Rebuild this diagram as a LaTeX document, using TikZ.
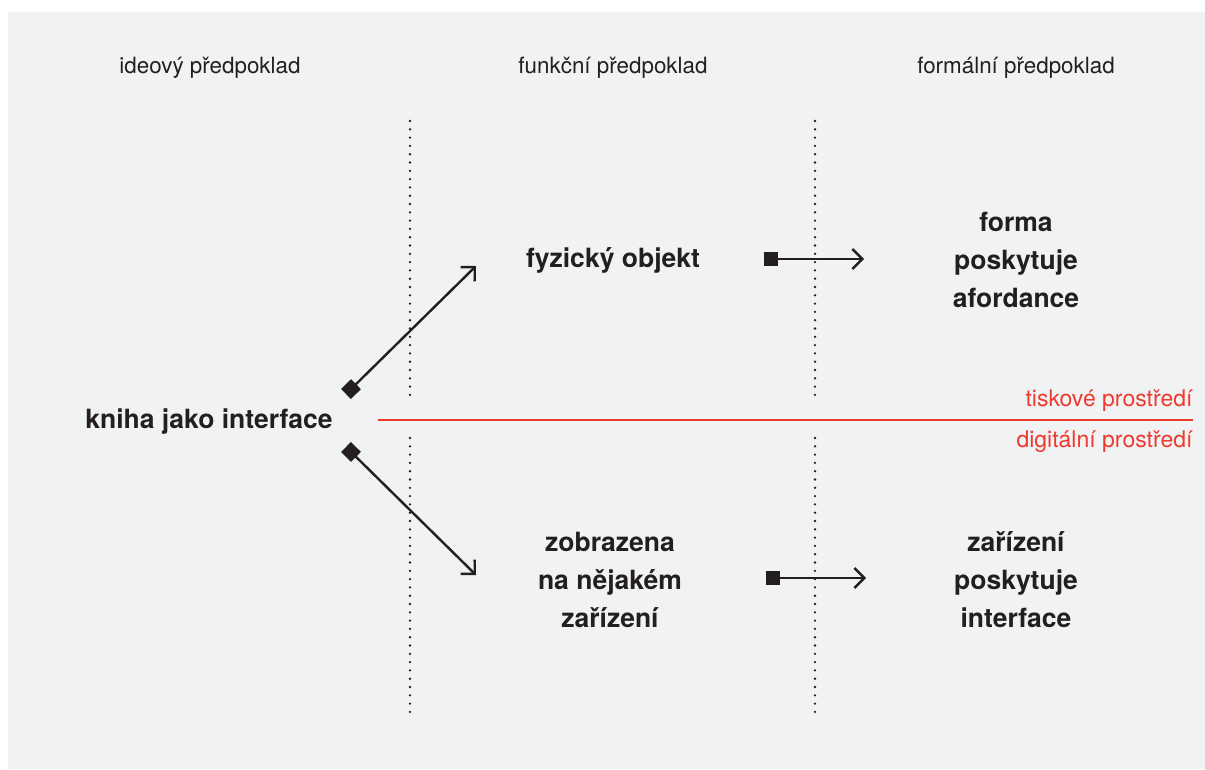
\documentclass[tikz,border=0pt]{standalone}
\usepackage{fontspec}
\setmainfont{TeX Gyre Heros}
\usetikzlibrary{arrows.meta}
\definecolor{paper}{HTML}{F1F2F4}
\definecolor{ink}{HTML}{231F20}
\definecolor{accent}{HTML}{EE3A2E}
\tikzset{
  head/.style={font=\fontsize{22.4}{24}\selectfont, text=ink, anchor=center},
  label/.style={font=\fontsize{26.5}{38}\selectfont\bfseries, text=ink, align=center, anchor=center},
  envlabel/.style={font=\fontsize{23}{24}\selectfont, text=accent, anchor=east},
  divider/.style={draw=ink, line width=2.6pt, line cap=round, dash pattern=on 0pt off 8.3pt},
  diaglink/.style={draw=ink, line width=2.4pt,
    {Square[length=14pt,width=14pt]}-{Straight Barb[length=10pt,width=20pt,line width=2.4pt]}},
}
\begin{document}
\begin{tikzpicture}[x=1pt,y=-1pt]
  \useasboundingbox (0,0) rectangle (1205,769);
  \fill[white] (0,0) rectangle (1205,769);
  \fill[paper] (8,12) rectangle (1205,769);

  % column headings
  \node[head] (h1) at (210,68) {ideový předpoklad};
  \node[head] (h2) at (613,68) {funkční předpoklad};
  \node[head] (h3) at (1016,68) {formální předpoklad};

  % dotted column dividers
  \draw[divider] (410,121) -- (410,398);
  \draw[divider] (410,438) -- (410,718);
  \draw[divider] (815,121) -- (815,398);
  \draw[divider] (815,438) -- (815,718);

  % print / digital boundary
  \draw[accent, line width=2.4pt] (378,420) -- (1193,420);
  \node[envlabel] (print) at (1196,401) {tiskové prostředí};
  \node[envlabel] (digital) at (1196,442) {digitální prostředí};

  % labels
  \node[label] (book) at (209,422) {kniha jako interface};
  \node[label] (phys) at (613,260) {fyzický objekt};
  \node[label] (form) at (1016,260) {forma\\poskytuje\\afordance};
  \node[label] (disp) at (610,580) {zobrazena\\na nějakém\\ zařízení};
  \node[label] (dev) at (1016,580) {zařízení\\poskytuje\\interface};

  % connector end points
  \coordinate (bookUp) at (346,394);
  \coordinate (physIn) at (476,266);
  \coordinate (bookDn) at (346,447);
  \coordinate (dispIn) at (476,575);
  \coordinate (physOut) at (764,259);
  \coordinate (formIn) at (864,259);
  \coordinate (dispOut) at (766,578);
  \coordinate (devIn) at (866,578);

  % connectors
  \draw[diaglink] (bookUp) -- (physIn);
  \draw[diaglink] (bookDn) -- (dispIn);
  \draw[diaglink] (physOut) -- (formIn);
  \draw[diaglink] (dispOut) -- (devIn);
\end{tikzpicture}
\end{document}
